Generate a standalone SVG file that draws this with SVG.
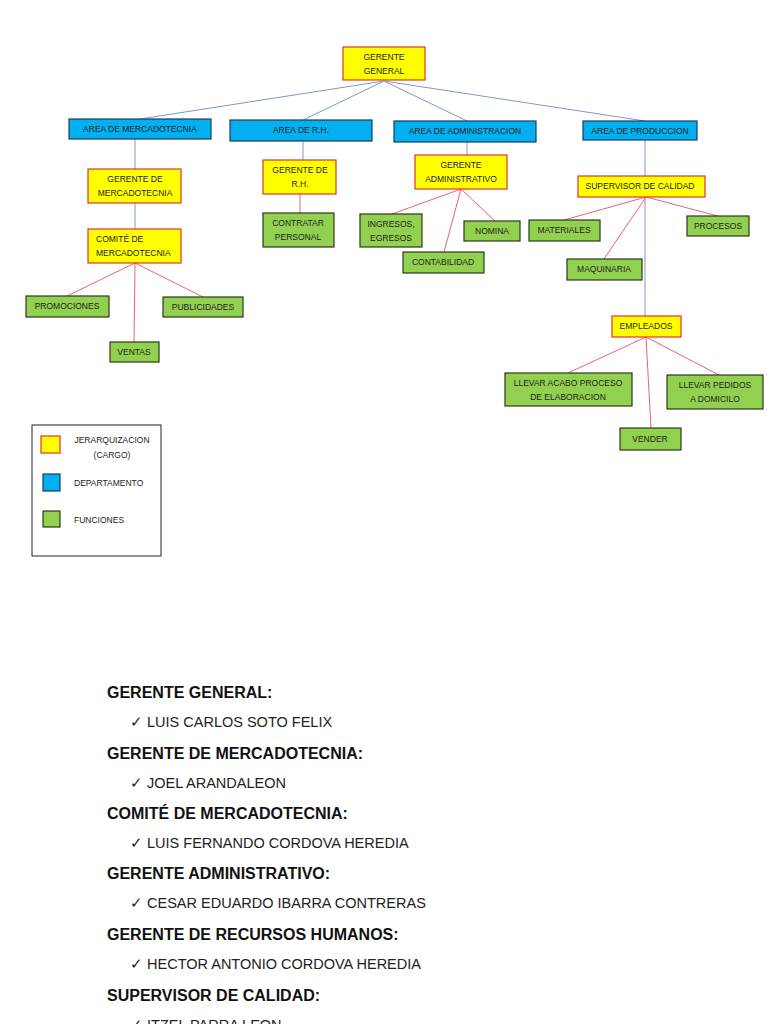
<svg xmlns="http://www.w3.org/2000/svg" width="768" height="1024" viewBox="0 0 768 1024">
<style>
.y{fill:#ffff00;stroke:#e8322a;stroke-width:1.2}
.b{fill:#00b0f0;stroke:#1f3b57;stroke-width:1.2}
.g{fill:#92d050;stroke:#2a3a1a;stroke-width:1.2}
.t{font-family:"Liberation Sans",Arial,sans-serif;font-size:8.5px;fill:#222;text-anchor:middle}
.s{font-family:"Liberation Sans",Arial,sans-serif;font-size:8.5px;fill:#222;text-anchor:start}
.bl{stroke:#8096c8;stroke-width:1;fill:none}
.rd{stroke:#f06070;stroke-width:1;fill:none}
.h{font-family:"Liberation Sans",Arial,sans-serif;font-size:16px;font-weight:bold;fill:#111}
.n{font-family:"Liberation Sans",Arial,sans-serif;font-size:14.5px;fill:#222}
</style>
<rect width="768" height="1024" fill="#fff"/>
<g id="connectors">
<path class="bl" d="M384,81L140,119M384,81L303,120M384,81L467,121M384,81L645,121M135,139V169M135,203V229M303,141V160M467,142V155M645,140V316"/>
<path class="rd" d="M135,263L67,296M135,263L203,297M135,263L134,342M300,194V213M461,189L392,214M461,189L444,252M461,189L495,221M646,197L564,220M646,197L718,216M646,197L604,259M646,337L568,373M646,337L719,375M646,337L651,428"/>
</g>
<g id="gg"><rect class="y" x="343" y="47" width="82" height="33"/><text class="t" x="384" y="60">GERENTE</text><text class="t" x="384" y="74">GENERAL</text></g>
<g id="am"><rect class="b" x="69" y="119" width="142" height="20"/><text class="t" x="140" y="132">AREA DE MERCADOTECNIA</text></g>
<g id="arh"><rect class="b" x="230" y="120" width="142" height="21"/><text class="t" x="301" y="133">AREA DE  R.H.</text></g>
<g id="aad"><rect class="b" x="394" y="121" width="142" height="21"/><text class="t" x="465" y="134">AREA DE  ADMINISTRACION</text></g>
<g id="apr"><rect class="b" x="583" y="121" width="114" height="19"/><text class="t" x="640" y="134">AREA DE PRODUCCION</text></g>
<g id="gm"><rect class="y" x="88" y="169" width="93" height="34"/><text class="t" x="135" y="182">GERENTE DE</text><text class="t" x="135" y="196">MERCADOTECNIA</text></g>
<g id="cm"><rect class="y" x="88" y="229" width="93" height="34"/><text class="s" x="96" y="242">COMITÉ DE</text><text class="s" x="96" y="256">MERCADOTECNIA</text></g>
<g id="pro"><rect class="g" x="26" y="296" width="83" height="21"/><text class="t" x="67" y="309">PROMOCIONES</text></g>
<g id="pub"><rect class="g" x="163" y="297" width="80" height="20"/><text class="t" x="203" y="310">PUBLICIDADES</text></g>
<g id="ven"><rect class="g" x="110" y="342" width="49" height="20"/><text class="t" x="134" y="355">VENTAS</text></g>
<g id="grh"><rect class="y" x="263" y="160" width="73" height="34"/><text class="t" x="300" y="173">GERENTE DE</text><text class="t" x="300" y="187">R.H.</text></g>
<g id="cp"><rect class="g" x="263" y="213" width="71" height="34"/><text class="t" x="298" y="226">CONTRATAR</text><text class="t" x="298" y="240">PERSONAL</text></g>
<g id="ga"><rect class="y" x="415" y="155" width="92" height="34"/><text class="t" x="461" y="168">GERENTE</text><text class="t" x="461" y="182">ADMINISTRATIVO</text></g>
<g id="ing"><rect class="g" x="360" y="214" width="62" height="33"/><text class="t" x="391" y="227">INGRESOS,</text><text class="t" x="391" y="241">EGRESOS</text></g>
<g id="nom"><rect class="g" x="464" y="221" width="56" height="20"/><text class="t" x="492" y="234">NOMINA</text></g>
<g id="con"><rect class="g" x="403" y="252" width="81" height="21"/><text class="t" x="443" y="265">CONTABILIDAD</text></g>
<g id="sc"><rect class="y" x="578" y="176" width="127" height="21"/><text class="t" x="640" y="189">SUPERVISOR DE CALIDAD</text></g>
<g id="mat"><rect class="g" x="529" y="220" width="71" height="21"/><text class="t" x="564" y="233">MATERIALES</text></g>
<g id="prc"><rect class="g" x="687" y="216" width="62" height="20"/><text class="t" x="718" y="229">PROCESOS</text></g>
<g id="maq"><rect class="g" x="567" y="259" width="75" height="21"/><text class="t" x="604" y="272">MAQUINARIA</text></g>
<g id="emp"><rect class="y" x="612" y="316" width="69" height="21"/><text class="t" x="646" y="329">EMPLEADOS</text></g>
<g id="lla"><rect class="g" x="505" y="373" width="127" height="33"/><text class="t" x="568" y="386">LLEVAR ACABO PROCESO</text><text class="t" x="568" y="400">DE ELABORACION</text></g>
<g id="llp"><rect class="g" x="667" y="375" width="96" height="34"/><text class="t" x="715" y="388">LLEVAR PEDIDOS</text><text class="t" x="715" y="402">A DOMICILO</text></g>
<g id="vnd"><rect class="g" x="620" y="428" width="61" height="22"/><text class="t" x="650" y="442">VENDER</text></g>
<g id="legend">
<rect x="32" y="425" width="129" height="131" fill="#fff" stroke="#222" stroke-width="1"/>
<rect class="y" x="41" y="436" width="19" height="17"/>
<rect class="b" x="43" y="474" width="17" height="17"/>
<rect class="g" x="43" y="511" width="17" height="16"/>
<text class="t" x="112" y="443">JERARQUIZACION</text><text class="t" x="112" y="458">(CARGO)</text>
<text class="s" x="74" y="486">DEPARTAMENTO</text>
<text class="s" x="74" y="523">FUNCIONES</text>
</g>
<g id="list">
<text class="h" x="107" y="698">GERENTE GENERAL:</text>
<text class="n" x="130" y="727">✓  LUIS CARLOS SOTO FELIX</text>
<text class="h" x="107" y="759">GERENTE DE MERCADOTECNIA:</text>
<text class="n" x="130" y="788">✓  JOEL ARANDALEON</text>
<text class="h" x="107" y="819">COMITÉ DE MERCADOTECNIA:</text>
<text class="n" x="130" y="848">✓  LUIS FERNANDO CORDOVA HEREDIA</text>
<text class="h" x="107" y="879">GERENTE ADMINISTRATIVO:</text>
<text class="n" x="130" y="908">✓  CESAR EDUARDO IBARRA CONTRERAS</text>
<text class="h" x="107" y="940">GERENTE DE RECURSOS HUMANOS:</text>
<text class="n" x="130" y="969">✓  HECTOR ANTONIO CORDOVA HEREDIA</text>
<text class="h" x="107" y="1001">SUPERVISOR DE CALIDAD:</text>
<text class="n" x="130" y="1030">✓  ITZEL PARRA LEON</text>
</g>
</svg>
